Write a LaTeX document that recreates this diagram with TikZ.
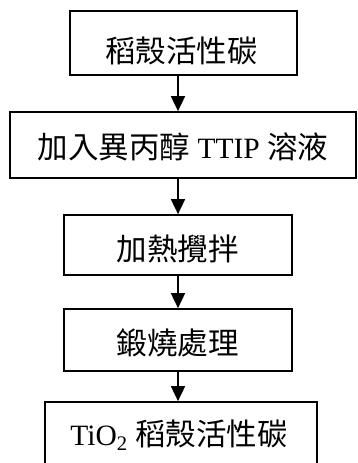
\documentclass[tikz,border=0pt]{standalone}
\usepackage{fontspec}
\setmainfont{Liberation Serif}
\newfontfamily\cjk{Noto Sans CJK TC}
\newcommand{\cjkt}[1]{{\fontsize{30.5}{34}\selectfont\cjk #1}}
\usetikzlibrary{arrows.meta}
\tikzset{
  box/.style={draw, line width=1.7pt, rectangle, inner sep=0pt},
  lbl/.style={inner sep=0pt, font=\fontsize{29.5}{33}\selectfont},
  arr/.style={line width=1.7pt, -{Triangle[width=14pt,length=15pt]}}
}
\begin{document}
\begin{tikzpicture}[x=1pt,y=-1pt]
\useasboundingbox (0,0) rectangle (357,463);
\clip (0,0) rectangle (357,463);
\node[box, minimum width=227pt, minimum height=64pt] (b1) at (183.5,43) {};
\node[box, minimum width=346pt, minimum height=66pt] (b2) at (183,145) {};
\node[box, minimum width=228pt, minimum height=60pt] (b3) at (178,245) {};
\node[box, minimum width=228pt, minimum height=62pt] (b4) at (178,340) {};
\node[box, minimum width=272pt, minimum height=72pt] (b5) at (181,438) {};
\node[lbl] (t1) at (181.5,51) {\cjkt{稻殼活性碳}};
\node[lbl] (t2) at (183,147) {\cjkt{加入異丙醇}\ TTIP \cjkt{溶液}};
\node[lbl] (t3) at (177.5,249) {\cjkt{加熱攪拌}};
\node[lbl] (t4) at (177.5,343) {\cjkt{鍛燒處理}};
\node[lbl] (t5) at (179,435) {TiO\textsubscript{2} \cjkt{稻殼活性碳}};
\coordinate (ax) at (178,0);
\draw[arr] (b1.south -| ax) -- (b2.north -| ax);
\draw[arr] (b2.south -| ax) -- (b3.north -| ax);
\draw[arr] (b3.south -| ax) -- (b4.north -| ax);
\draw[arr] (b4.south -| ax) -- (b5.north -| ax);
\end{tikzpicture}
\end{document}
